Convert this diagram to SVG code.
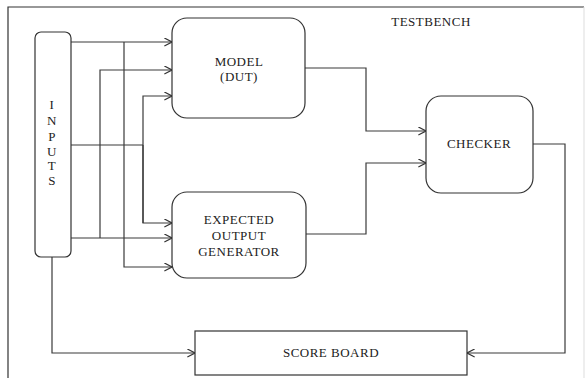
<svg xmlns="http://www.w3.org/2000/svg" width="586" height="378" viewBox="0 0 586 378">
<style>
.box{fill:#fff;stroke:#333;stroke-width:1.2}
.ln{fill:none;stroke:#3a3a3a;stroke-width:1.2}
text{font-family:"Liberation Serif","Times New Roman",serif;font-size:13px;fill:#222;text-anchor:middle;letter-spacing:0.5px}
</style>
<defs>
<marker id="ah" viewBox="0 0 10 10" refX="9.5" refY="5" markerWidth="9" markerHeight="9" markerUnits="userSpaceOnUse" orient="auto">
<path d="M1,0.5 L9.5,5 L1,9.5" fill="none" stroke="#333" stroke-width="1.3"/>
</marker>
</defs>
<rect width="586" height="378" fill="#fff"/>
<g id="frame">
<path d="M8,378 L8,7 L584,7" fill="none" stroke="#333" stroke-width="1.2"/>
<path d="M584,7 L584,378" fill="none" stroke="#ddd" stroke-width="1"/>
<text x="431" y="26">TESTBENCH</text>
</g>
<g id="connectors">
<path class="ln" d="M71,42 L172,42" marker-end="url(#ah)"/>
<path class="ln" d="M124,42 L124,267 L172,267" marker-end="url(#ah)"/>
<path class="ln" d="M71,145 L143,145"/>
<path class="ln" d="M143,223 L143,96 L172,96" marker-end="url(#ah)"/>
<path class="ln" d="M143,145 L143,223 L172,223" marker-end="url(#ah)"/>
<path class="ln" d="M71,238 L172,238" marker-end="url(#ah)"/>
<path class="ln" d="M100,238 L100,70 L172,70" marker-end="url(#ah)"/>
<path class="ln" d="M52,257 L52,353 L195,353" marker-end="url(#ah)"/>
<path class="ln" d="M305,68 L366,68 L366,131 L426,131" marker-end="url(#ah)"/>
<path class="ln" d="M306,234 L366,234 L366,163 L426,163" marker-end="url(#ah)"/>
<path class="ln" d="M533,144 L565,144 L565,353 L467,353" marker-end="url(#ah)"/>
</g>
<g id="inputs">
<rect class="box" x="35" y="32" width="36" height="225" rx="6"/>
<text x="52" y="109">I</text>
<text x="52" y="125">N</text>
<text x="52" y="141">P</text>
<text x="52" y="156">U</text>
<text x="52" y="170">T</text>
<text x="52" y="185">S</text>
</g>
<g id="model">
<rect class="box" x="172" y="18" width="133" height="100" rx="15"/>
<text x="239" y="66">MODEL</text>
<text x="239" y="81">(DUT)</text>
</g>
<g id="expected">
<rect class="box" x="172" y="192" width="134" height="86" rx="15"/>
<text x="239" y="224">EXPECTED</text>
<text x="239" y="240">OUTPUT</text>
<text x="239" y="256">GENERATOR</text>
</g>
<g id="checker">
<rect class="box" x="426" y="96" width="107" height="97" rx="15"/>
<text x="479" y="148">CHECKER</text>
</g>
<g id="scoreboard">
<rect class="box" x="195" y="331" width="272" height="44"/>
<text x="331" y="357">SCORE BOARD</text>
</g>
</svg>
